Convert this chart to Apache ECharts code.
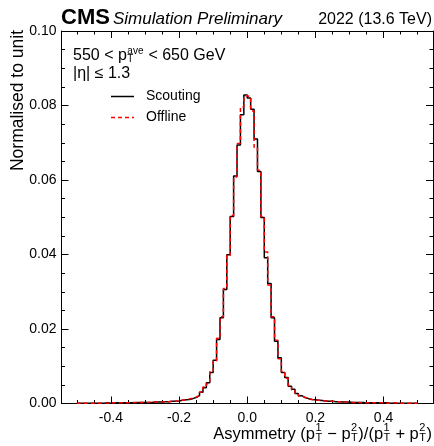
<!DOCTYPE html>
<html><head><meta charset="utf-8">
<script src="https://cdn.jsdelivr.net/npm/echarts@6/dist/echarts.min.js"></script>
<style>html,body{margin:0;padding:0;background:#fff}#c{width:434px;height:446px}</style>
</head><body><div id="c"></div>
<script>
// ---- data ----
const binStart = -0.5;
const binWidth = 0.01;
const scouting = [
  0.0001,0.0001,0.0001,0.0001,0.0001,0.0001,0.0001,0.0001,0.0002,0.0001,
  0.0002,0.0002,0.0002,0.0002,0.0002,0.0002,0.0002,0.0003,0.0003,0.0003,
  0.0003,0.0003,0.0004,0.0004,0.0004,0.0005,0.0005,0.0006,0.0006,0.0007,
  0.0009,0.0010,0.0011,0.0013,0.0016,0.0021,0.0030,0.0042,0.0056,0.0083,
  0.0116,0.0172,0.0230,0.0306,0.0399,0.0502,0.0611,0.0694,0.0775,0.0828,
  0.0820,0.0790,0.0710,0.0623,0.0499,0.0391,0.0322,0.0230,0.0167,0.0123,
  0.0083,0.0070,0.0046,0.0038,0.0027,0.0021,0.0016,0.0013,0.0011,0.0010,
  0.0009,0.0008,0.0007,0.0006,0.0006,0.0005,0.0005,0.0004,0.0004,0.0004,
  0.0003,0.0003,0.0003,0.0003,0.0002,0.0002,0.0002,0.0002,0.0002,0.0002,
  0.0002,0.0001,0.0001,0.0001,0.0001,0.0001,0.0001,0.0001,0.0001,0.0001
];
const offline = [
  0.0001,0.0001,0.0001,0.0001,0.0001,0.0001,0.0001,0.0002,0.0001,0.0001,
  0.0002,0.0002,0.0002,0.0002,0.0002,0.0002,0.0003,0.0003,0.0003,0.0003,
  0.0003,0.0004,0.0004,0.0004,0.0004,0.0005,0.0005,0.0006,0.0007,0.0007,
  0.0009,0.0010,0.0012,0.0014,0.0017,0.0022,0.0031,0.0044,0.0053,0.0087,
  0.0114,0.0175,0.0233,0.0309,0.0397,0.0505,0.0608,0.0698,0.0796,0.0826,
  0.0823,0.0785,0.0688,0.0626,0.0502,0.0407,0.0318,0.0233,0.0170,0.0120,
  0.0086,0.0068,0.0048,0.0036,0.0028,0.0020,0.0016,0.0013,0.0011,0.0009,
  0.0009,0.0008,0.0007,0.0007,0.0006,0.0005,0.0005,0.0004,0.0004,0.0003,
  0.0003,0.0003,0.0003,0.0002,0.0002,0.0002,0.0002,0.0002,0.0002,0.0002,
  0.0001,0.0001,0.0002,0.0001,0.0001,0.0001,0.0001,0.0001,0.0001,0.0001
];
const xMajorTicks = [-0.4, -0.2, 0, 0.2, 0.4];
const xMinorTicks = [-0.5,-0.45,-0.35,-0.3,-0.25,-0.15,-0.1,-0.05,0.05,0.1,0.15,0.25,0.3,0.35,0.45,0.5];
const yMajorTicks = [0, 0.02, 0.04, 0.06, 0.08, 0.10];
const yMinorTicks = [0.005,0.01,0.015,0.025,0.03,0.035,0.045,0.05,0.055,0.065,0.07,0.075,0.085,0.09,0.095];
const seriesNames = ['Scouting', 'Offline'];

// ---- helpers ----
const FONT = '"Liberation Sans", Arial, Helvetica, sans-serif';
const mctx = document.createElement('canvas').getContext('2d');
function tw(t, size, pre) { mctx.font = (pre ? pre + ' ' : '') + size + 'px ' + FONT; return mctx.measureText(t).width; }
function txt(t, x, y, font, align) {
  return { type: 'text', x: x, y: y, silent: true,
    style: { text: t, font: font, fill: '#000', align: align, textAlign: align, verticalAlign: 'middle', textVerticalAlign: 'middle' } };
}
function mathText(tokens, x, cy, size, align, supDy, subDy) {
  const sm = Math.round(size * 0.64);
  const ws = tokens.map(t => typeof t === 'string' ? tw(t, size) : Math.max(tw(t.sup, sm), tw(t.sub, sm)) + 1);
  const total = ws.reduce((a, b) => a + b, 0);
  let cx = align === 'right' ? x - total : x;
  const els = [];
  tokens.forEach((t, i) => {
    if (typeof t === 'string') els.push(txt(t, cx, cy, size + 'px ' + FONT, 'left'));
    else {
      els.push(txt(t.sup, cx + 0.5, cy + supDy, sm + 'px ' + FONT, 'left'));
      els.push(txt(t.sub, cx + 0.5, cy + subDy, sm + 'px ' + FONT, 'left'));
    }
    cx += ws[i];
  });
  return els;
}
function stepData(vals) {
  const d = vals.map((v, i) => [+(binStart + i * binWidth).toFixed(4), v]);
  d.push([+(binStart + vals.length * binWidth).toFixed(4), vals[vals.length - 1]]);
  return d;
}

const XMIN = -0.545, XMAX = 0.545;
function xAx(pos, major) {
  return {
    type: 'value', min: XMIN, max: XMAX, position: pos,
    axisLine: { show: major, onZero: false, lineStyle: { color: '#000', width: 1 } },
    axisTick: { show: true, inside: true, length: major ? 7 : 3.5, customValues: major ? xMajorTicks : xMinorTicks, lineStyle: { color: '#000', width: 1 } },
    axisLabel: { show: major && pos === 'bottom', customValues: xMajorTicks, formatter: v => v.toFixed(1), fontSize: 14, fontFamily: FONT, color: '#000', margin: 8 },
    splitLine: { show: false }
  };
}
function yAx(pos, major) {
  return {
    type: 'value', min: 0, max: 0.1, position: pos,
    axisLine: { show: major, onZero: false, lineStyle: { color: '#000', width: 1 } },
    axisTick: { show: true, inside: true, length: major ? 7 : 3.5, customValues: major ? yMajorTicks : yMinorTicks, lineStyle: { color: '#000', width: 1 } },
    axisLabel: { show: major && pos === 'left', customValues: yMajorTicks, formatter: v => v.toFixed(2), fontSize: 14, fontFamily: FONT, color: '#000', margin: 5 },
    splitLine: { show: false }
  };
}

const graphics = [];
graphics.push(txt('CMS', 61, 18, 'bold 22px ' + FONT, 'left'));
graphics.push(txt('Simulation Preliminary', 113, 19.5, 'italic 17px ' + FONT, 'left'));
graphics.push(txt('2022 (13.6 TeV)', 432, 19.5, '16px ' + FONT, 'right'));
mathText(['550 < p', { sup: 'ave', sub: 'T' }, ' < 650 GeV'], 73, 56, 16, 'left', -5, 3.5).forEach(e => graphics.push(e));
graphics.push(txt('|η| ≤ 1.3', 73, 73.5, '16px ' + FONT, 'left'));
// legend
graphics.push({ type: 'line', silent: true, shape: { x1: 111, y1: 96.5, x2: 134, y2: 96.5 }, style: { stroke: '#000', lineWidth: 1.5 } });
graphics.push(txt(seriesNames[0], 146, 96.5, '14px ' + FONT, 'left'));
graphics.push({ type: 'line', silent: true, shape: { x1: 111, y1: 117.5, x2: 134, y2: 117.5 }, style: { stroke: '#ff0000', lineWidth: 1.5, lineDash: [4, 3] } });
graphics.push(txt(seriesNames[1], 146, 117.5, '14px ' + FONT, 'left'));
// axis titles
graphics.push({ type: 'text', x: 18, y: 30, rotation: Math.PI / 2, silent: true,
  style: { text: 'Normalised to unit', font: '17.5px ' + FONT, fill: '#000', align: 'right', textAlign: 'right', verticalAlign: 'middle', textVerticalAlign: 'middle' } });
mathText(['Asymmetry (p', { sup: '1', sub: 'T' }, ' − p', { sup: '2', sub: 'T' }, ')/(p', { sup: '1', sub: 'T' }, ' + p', { sup: '2', sub: 'T' }, ')'],
  432, 434, 16.5, 'right', -6, 3.5).forEach(e => graphics.push(e));

const chart = echarts.init(document.getElementById('c'), null, { renderer: 'canvas' });
chart.setOption({
  animation: false,
  backgroundColor: '#fff',
  grid: { left: 61.5, right: 1, top: 31, bottom: 42.5, containLabel: false },
  xAxis: [xAx('bottom', true), xAx('bottom', false), xAx('top', true), xAx('top', false)],
  yAxis: [yAx('left', true), yAx('left', false), yAx('right', true), yAx('right', false)],
  series: [
    { name: seriesNames[0], type: 'line', step: 'end', symbol: 'none', data: stepData(scouting), xAxisIndex: 0, yAxisIndex: 0,
      lineStyle: { color: '#000', width: 1.5 }, z: 3 },
    { name: seriesNames[1], type: 'line', step: 'end', symbol: 'none', data: stepData(offline), xAxisIndex: 0, yAxisIndex: 0,
      lineStyle: { color: '#ff0000', width: 1.5, type: [4, 3] }, z: 4 }
  ],
  graphic: graphics
});
</script></body></html>
